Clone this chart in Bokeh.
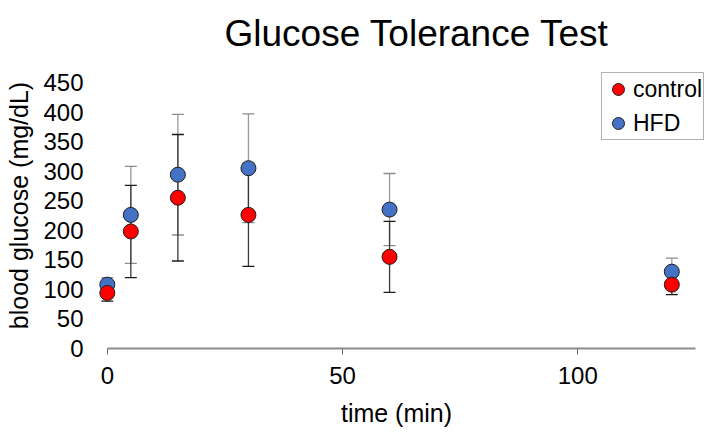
from bokeh.plotting import figure
from bokeh.models import (ColumnDataSource, Range1d, FixedTicker, Whisker, TeeHead,
                          Legend, LegendItem)
from bokeh.embed import file_html
from bokeh.resources import INLINE

# ---- data ----
time_min = [0, 5, 15, 30, 60, 120]
control = [94, 198, 255, 226, 155, 108]
control_err = [14, 78, 107, 87, 60, 17]
hfd = [108, 226, 294, 305, 235, 130]
hfd_err = [12, 82, 102, 92, 61, 23]
x_ticks = [0, 50, 100]
y_ticks = [0, 50, 100, 150, 200, 250, 300, 350, 400, 450]
title_text = "Glucose Tolerance Test"
x_label = "time (min)"
y_label = "blood glucose (mg/dL)"
series_names = ["control", "HFD"]

FONT = "Liberation Sans"

src_c = ColumnDataSource(dict(
    t=time_min, y=control,
    upper=[v + e for v, e in zip(control, control_err)],
    lower=[v - e for v, e in zip(control, control_err)]))
src_h = ColumnDataSource(dict(
    t=time_min, y=hfd,
    upper=[v + e for v, e in zip(hfd, hfd_err)],
    lower=[v - e for v, e in zip(hfd, hfd_err)]))

p = figure(width=704, height=432, output_backend="svg", toolbar_location=None,
           x_range=Range1d(-4, 126.95), y_range=Range1d(0, 483.8),
           min_border_left=88, min_border_right=0, min_border_top=62, min_border_bottom=84,
           background_fill_color="white", border_fill_color="white")
p.outline_line_color = None
p.xgrid.visible = False
p.ygrid.visible = False

# title
p.title.text = title_text
p.title.text_font = FONT
p.title.text_font_size = "37px"
p.title.text_font_style = "normal"
p.title.text_color = "black"
p.title.align = "left"
p.title.offset = 136
p.title.standoff = 16
p.title.vertical_align = "middle"

# error bars
wh = Whisker(base="t", upper="upper", lower="lower", source=src_h,
             line_color="#999999", line_width=1.3,
             upper_head=TeeHead(size=12, line_color="#8c8c8c", line_width=1.3),
             lower_head=TeeHead(size=12, line_color="#8c8c8c", line_width=1.3))
wc = Whisker(base="t", upper="upper", lower="lower", source=src_c,
             line_color="#3a3a3a", line_width=1.3,
             upper_head=TeeHead(size=12, line_color="#1a1a1a", line_width=1.3),
             lower_head=TeeHead(size=12, line_color="#1a1a1a", line_width=1.3))
p.add_layout(wh)
p.add_layout(wc)

r_h = p.scatter("t", "y", source=src_h, marker="circle", size=15,
                fill_color="#4472C4", line_color="#1f1f1f", line_width=1)
r_c = p.scatter("t", "y", source=src_c, marker="circle", size=15,
                fill_color="#FF0000", line_color="#1f1f1f", line_width=1)

# axes
xa = p.xaxis[0]
xa.ticker = FixedTicker(ticks=x_ticks)
xa.bounds = (0, 125)
xa.axis_line_color = "#8c8c8c"
xa.axis_line_width = 2
xa.major_tick_line_color = "#6e6e6e"
xa.major_tick_in = 0
xa.major_tick_out = 6
xa.minor_tick_line_color = None
xa.major_label_text_font = FONT
xa.major_label_text_font_size = "24px"
xa.major_label_text_color = "black"
xa.major_label_standoff = 12
xa.axis_label = x_label
xa.axis_label_text_font = FONT
xa.axis_label_text_font_size = "25px"
xa.axis_label_text_font_style = "normal"
xa.axis_label_text_color = "black"
xa.axis_label_standoff = 12

ya = p.yaxis[0]
ya.ticker = FixedTicker(ticks=y_ticks)
ya.axis_line_color = None
ya.major_tick_line_color = None
ya.minor_tick_line_color = None
ya.major_tick_in = 0
ya.major_tick_out = 0
ya.major_label_text_font = FONT
ya.major_label_text_font_size = "24px"
ya.major_label_text_color = "black"
ya.major_label_standoff = 5
ya.axis_label = y_label
ya.axis_label_text_font = FONT
ya.axis_label_text_font_size = "25px"
ya.axis_label_text_font_style = "normal"
ya.axis_label_text_color = "black"
ya.axis_label_standoff = 7

# legend
legend = Legend(items=[LegendItem(label=series_names[0], renderers=[r_c]),
                       LegendItem(label=series_names[1], renderers=[r_h])],
                location=(513, 208), orientation="vertical",
                glyph_width=30, glyph_height=30, label_height=30,
                label_standoff=0, padding=1, spacing=4, margin=0,
                label_text_font=FONT, label_text_font_size="23px",
                label_text_color="black",
                border_line_color="#666666", border_line_width=1.5,
                background_fill_color="white", background_fill_alpha=1)
p.add_layout(legend)

open("out.html", "w").write(file_html(p, INLINE))
